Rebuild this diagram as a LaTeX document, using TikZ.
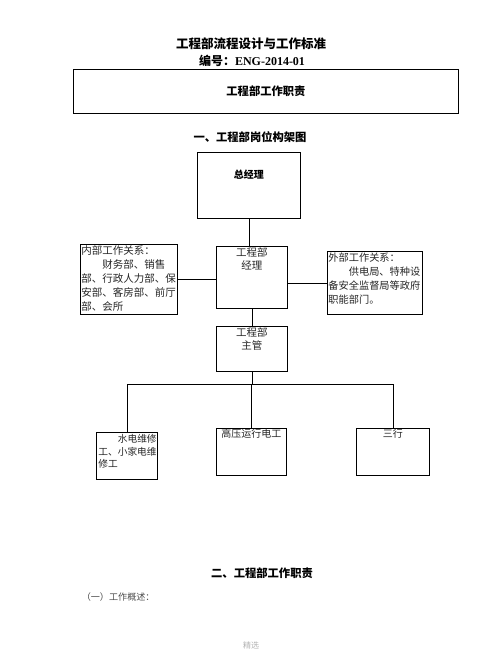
\documentclass[tikz,border=0pt]{standalone}
\usepackage{fontspec}
\setmainfont{Liberation Serif}
\newfontfamily\cjk{Noto Sans CJK SC}
\usetikzlibrary{positioning}
\tikzset{
  box/.style={draw, line width=0.9pt, anchor=north west, inner sep=0pt},
  boxtext/.style={align=left, inner sep=1pt, text=black!85},
  heading/.style={font=\cjk\bfseries\fontsize{11.3}{13}\selectfont},
}

\begin{document}
\begin{tikzpicture}[x=1pt, y=1pt, line width=0.9pt]
    \useasboundingbox (0,0) rectangle (502,-649);
    % titles
    \node[font=\cjk\bfseries\fontsize{12.5}{14}\selectfont] (title) at (251,-44) {工程部流程设计与工作标准};
    \node[font=\bfseries\fontsize{12}{14}\selectfont] (code) at (252,-61) {{\cjk 编号：}ENG-2014-01};
    \node[box, minimum width=385pt, minimum height=44pt] (duty) at (73,-69) {};
    \node[heading] (dutytext) at (duty.center) {工程部工作职责};
    \node[heading] (sec1) at (250,-137) {一、工程部岗位构架图};
    % boxes
    \node[box, minimum width=103pt, minimum height=66pt] (gm) at (197,-152) {};
    \node[box, minimum width=71pt, minimum height=62pt] (mgr) at (216,-246) {};
    \node[box, minimum width=71pt, minimum height=45pt] (chief) at (216,-326) {};
    \node[box, minimum width=97pt, minimum height=70pt] (inner) at (80,-244) {};
    \node[box, minimum width=95pt, minimum height=63pt] (outer) at (327,-251) {};
    \node[box, minimum width=61pt, minimum height=47pt] (shuidian) at (96,-432) {};
    \node[box, minimum width=70pt, minimum height=47pt] (gaoya) at (216,-428) {};
    \node[box, minimum width=73pt, minimum height=47pt] (sanxing) at (356,-428) {};
    % box texts
    \node[font=\cjk\bfseries\fontsize{10}{12}\selectfont] (gmtext) at ([yshift=-23pt]gm.north) {总经理};
    \node[boxtext, align=center, anchor=north, font=\cjk\fontsize{10.5}{13}\selectfont] (mgrtext) at (mgr.north) {工程部\\经理};
    \node[boxtext, align=center, anchor=north, font=\cjk\fontsize{10.5}{13}\selectfont] (chieftext) at (chief.north) {工程部\\主管};
    \node[boxtext, anchor=north west, font=\cjk\fontsize{10.5}{14}\selectfont] (innertext) at (inner.north west)
        {内部工作关系：\\\hspace*{2em}财务部、销售\\部、行政人力部、保\\安部、客房部、前厅\\部、会所};
    \node[boxtext, anchor=north west, font=\cjk\fontsize{10.2}{14}\selectfont] (outertext) at (outer.north west)
        {外部工作关系：\\\hspace*{2em}供电局、特种设\\备安全监督局等政府\\职能部门。};
    \node[boxtext, anchor=north west, inner sep=2pt, font=\cjk\fontsize{9.7}{12.5}\selectfont] (shuidiantext) at (shuidian.north west)
        {\hspace*{2em}水电维修\\工、小家电维\\修工};
    \node[boxtext, anchor=north, font=\cjk\fontsize{10}{12}\selectfont] (gaoyatext) at (gaoya.north) {高压运行电工};
    \node[boxtext, anchor=north, font=\cjk\fontsize{10}{12}\selectfont] (sanxingtext) at (sanxing.north) {三行};
    % connectors
    \coordinate (bar) at (0,-384);
    \draw (gm.south) -- (gm.south |- mgr.north);
    \draw (inner.east) -- (inner.east -| mgr.west);
    \draw (mgr.east |- outer.west) -- (outer.west);
    \draw (mgr.south) -- (chief.north);
    \draw (chief.south) -- (chief.south |- bar);
    \draw (shuidian.north) |- (sanxing.north |- bar) -- (sanxing.north);
    \draw (bar -| gaoya.north) -- (gaoya.north);
    % lower text
    \node[heading] (sec2) at (262,-573) {二、工程部工作职责};
    \node[anchor=west, text=black!70, font=\cjk\fontsize{9.1}{11}\selectfont] (overview) at (78,-597) {（一）工作概述：};
    \node[text=black!30, font=\cjk\fontsize{8}{10}\selectfont] (footer) at (251,-645) {精选};
\end{tikzpicture}
\end{document}
